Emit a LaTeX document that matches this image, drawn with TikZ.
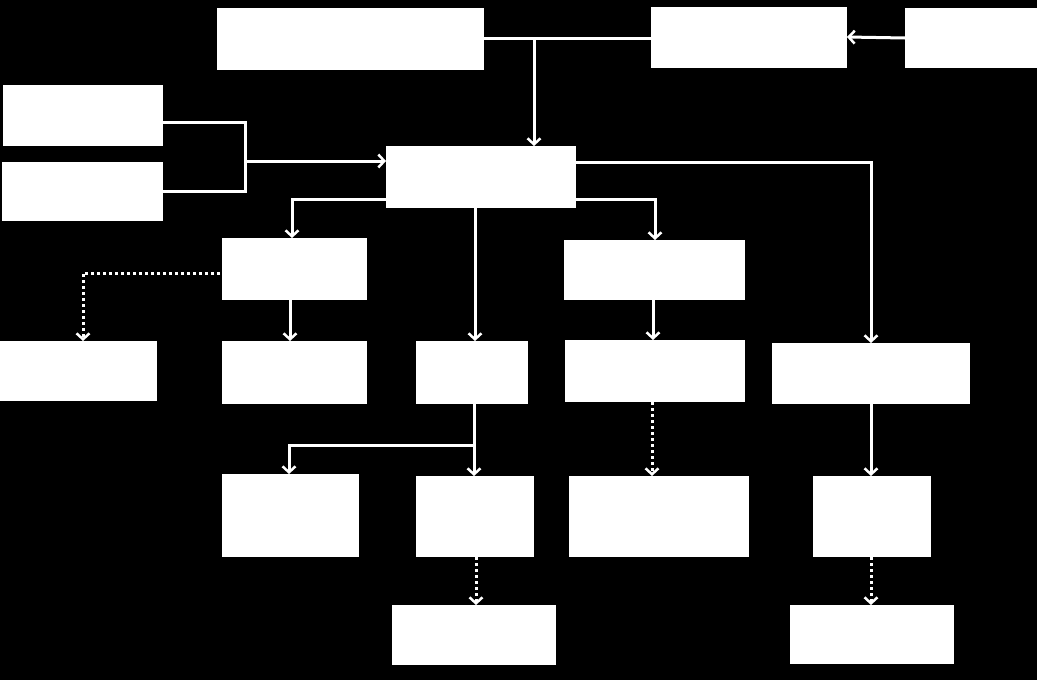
\documentclass[tikz,border=0pt]{standalone}
\usetikzlibrary{arrows.meta}
\begin{document}
\begin{tikzpicture}[x=1pt,y=-1pt,
  box/.style={fill=white,draw=none},
  con/.style={draw=white,line width=3pt},
  arr/.style={con,-{Straight Barb[length=6pt,width=13pt,line width=2.5pt]}},
  dot/.style={dash pattern=on 3pt off 3pt}]
\fill[black] (0,0) rectangle (1037,680);
\useasboundingbox (0,0) rectangle (1037,680);
\foreach \n/\a/\b/\c/\d in {A/217/8/484/70,B/651/7/847/68,C/905/8/1037/68,D/3/85/163/146,E/2/162/163/221,F/386/146/576/208,G/222/238/367/300,H/564/240/745/300,I/0/341/157/401,J/222/341/367/404,K/416/341/528/404,L/565/340/745/402,M/772/343/970/404,N/222/474/359/557,O/416/476/534/557,P/569/476/749/557,Q/813/476/931/557,R/392/605/556/665,S/790/605/954/664}{
  \path[box] (\a,\b) rectangle (\c,\d);
  \coordinate (\n) at ({(\a+\c)/2},{(\b+\d)/2});
}
\coordinate (ab) at (534,38);
\draw[con] (484,38) -- (651,38);
\draw[arr] (ab) -- (534,146);
\draw[arr] (905,38) -- (847,37);
\draw[con] (163,122) -- (245,122) -- (245,191) -- (163,191);
\draw[arr] (245,161) -- (386,161);
\draw[arr] (386,199) -- (292,199) -- (292,238);
\draw[arr] (576,199) -- (655,199) -- (655,240);
\draw[arr] (576,162) -- (871,162) -- (871,343);
\draw[arr] (475,208) -- (475,341);
\draw[arr,dot] (220,273) -- (83,273) -- (83,341);
\draw[arr] (290,300) -- (290,341);
\draw[arr] (653,300) -- (653,340);
\draw[arr] (474,404) -- (474,476);
\draw[arr] (474,445) -- (289,445) -- (289,474);
\draw[arr,dot] (652,402) -- (652,476);
\draw[arr] (871,404) -- (871,476);
\draw[arr,dot] (476,557) -- (476,605);
\draw[arr,dot] (871,557) -- (871,605);
\end{tikzpicture}
\end{document}
